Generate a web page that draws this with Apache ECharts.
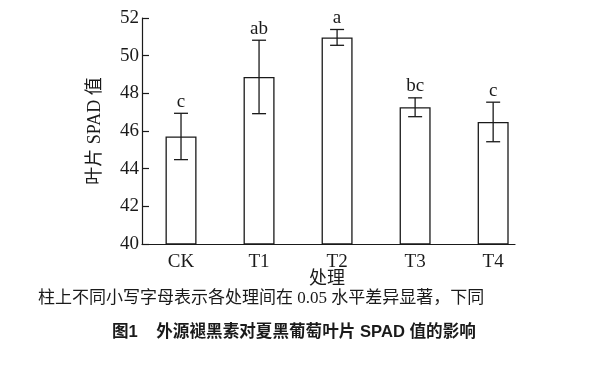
<!DOCTYPE html>
<html><head><meta charset="utf-8">
<script src="https://cdn.jsdelivr.net/npm/echarts@6/dist/echarts.min.js"></script>
<style>html,body{margin:0;padding:0;background:#fff}#c{width:600px;height:371px}</style>
</head><body><div id="c"></div>
<script>
var categories = ['CK', 'T1', 'T2', 'T3', 'T4'];
var means = [45.71, 48.87, 50.97, 47.26, 46.48];
var errors = [1.23, 1.95, 0.42, 0.50, 1.05];
var letters = ['c', 'ab', 'a', 'bc', 'c'];
var yTicks = [40, 42, 44, 46, 48, 50, 52];

var serif = '"Liberation Serif","Times New Roman","Noto Sans CJK SC",serif';
var ink = '#1a1a1a';

var chart = echarts.init(document.getElementById('c'));
var barData = means.map(function (v, i) { return [i, v]; });
var errData = means.map(function (v, i) { return [i, v - errors[i], v + errors[i], letters[i]]; });

chart.setOption({
  animation: false,
  backgroundColor: '#fff',
  grid: { left: 142, top: 18, right: 85, bottom: 127, containLabel: false },
  xAxis: {
    type: 'value', min: -0.5, max: 4.28, interval: 0.5,
    axisLine: { show: true, onZero: false, lineStyle: { color: ink, width: 1.2 } },
    axisTick: { show: false },
    splitLine: { show: false },
    axisLabel: {
      showMaxLabel: false, showMinLabel: false,
      color: ink, fontFamily: serif, fontSize: 19, margin: 9,
      formatter: function (v) { return Number.isInteger(v) ? categories[v] : ''; }
    }
  },
  yAxis: {
    type: 'value', min: yTicks[0], max: yTicks[yTicks.length - 1], interval: 2,
    name: '叶片 SPAD 值', nameLocation: 'middle', nameGap: 38, nameRotate: 90,
    nameTextStyle: { color: ink, fontFamily: serif, fontSize: 18 },
    axisLine: { show: true, onZero: false, lineStyle: { color: ink, width: 1.2 } },
    axisTick: { show: true, inside: true, length: 7, lineStyle: { color: ink, width: 1.2 } },
    splitLine: { show: false },
    axisLabel: { color: ink, fontFamily: serif, fontSize: 19, margin: 3 }
  },
  series: [
    {
      type: 'bar', data: barData, barWidth: 31,
      itemStyle: { color: '#fff', borderColor: ink, borderWidth: 1.3 }
    },
    {
      type: 'custom', data: errData, z: 10,
      renderItem: function (params, api) {
        var x = api.value(0);
        var lo = api.coord([x, api.value(1)]);
        var hi = api.coord([x, api.value(2)]);
        var hw = 7;
        return {
          type: 'group',
          children: [
            { type: 'line', shape: { x1: hi[0], y1: hi[1], x2: lo[0], y2: lo[1] }, style: { stroke: ink, lineWidth: 1.3 } },
            { type: 'line', shape: { x1: hi[0] - hw, y1: hi[1], x2: hi[0] + hw, y2: hi[1] }, style: { stroke: ink, lineWidth: 1.3 } },
            { type: 'line', shape: { x1: lo[0] - hw, y1: lo[1], x2: lo[0] + hw, y2: lo[1] }, style: { stroke: ink, lineWidth: 1.3 } },
            { type: 'text', x: hi[0], y: hi[1] - 2, style: { text: api.value(3), fill: ink, font: '19px ' + serif, align: 'center', verticalAlign: 'bottom' } }
          ]
        };
      }
    }
  ],
  graphic: [
    { type: 'text', left: 309, top: 270, style: { text: '处理', fill: ink, font: '18px ' + serif } },
    { type: 'text', left: 38, top: 290, style: { text: '柱上不同小写字母表示各处理间在 0.05 水平差异显著，下同', fill: ink, font: '17px ' + serif } },
    { type: 'text', left: 112, top: 324, style: { text: '图1    外源褪黑素对夏黑葡萄叶片 SPAD 值的影响', fill: ink, font: 'bold 16.6px "Liberation Sans","Noto Sans CJK SC",sans-serif' } }
  ]
});
</script></body></html>
